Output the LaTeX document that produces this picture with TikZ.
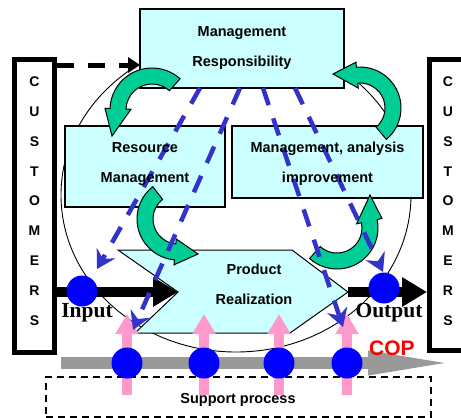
\documentclass[tikz,border=0pt]{standalone}
\usepackage{fontspec}
\newfontfamily\arialf{Liberation Sans}
\newfontfamily\timesf{Liberation Serif}
\usetikzlibrary{arrows.meta}
\definecolor{boxcyan}{RGB}{204,255,255}
\definecolor{bendgreen}{RGB}{0,204,150}
\definecolor{dashblue}{RGB}{51,51,204}
\definecolor{dotblue}{RGB}{0,0,255}
\definecolor{uppink}{RGB}{255,153,204}
\definecolor{copgrey}{RGB}{153,153,153}
% curved block arrow: centre, radius, tail angle, head angle, tip
\newcommand\bendarrow[5]{%
  \pgfmathsetmacro\rOut{#2+8}\pgfmathsetmacro\rIn{#2-8}%
  \pgfmathsetmacro\hOut{#2+13}\pgfmathsetmacro\hIn{#2-13}%
  \filldraw[greenarrow] ([shift={(#1)}]#3:\rOut) arc[start angle=#3, end angle=#4, radius=\rOut]
    -- ([shift={(#1)}]#4:\hOut) -- (#5) -- ([shift={(#1)}]#4:\hIn)
    -- ([shift={(#1)}]#4:\rIn) arc[start angle=#4, end angle=#3, radius=\rIn] -- cycle;}
\begin{document}
\begin{tikzpicture}[x=1pt, y=-1pt,
    custbox/.style={draw, line width=5pt, fill=white, minimum width=40pt, inner sep=0pt},
    letters/.style={font=\arialf\bfseries\fontsize{14}{29.8}\selectfont, align=center, inner sep=0pt},
    procbox/.style={draw, line width=1.5pt, fill=boxcyan, inner sep=0pt},
    lbl/.style={font=\arialf\bfseries\fontsize{14.5}{30}\selectfont, align=center, inner sep=0pt},
    bluedot/.style={circle, fill=dotblue, minimum size=31pt, inner sep=0pt},
    blueline/.style={dashblue, line width=4.5pt, dash pattern=on 18pt off 14pt,
      -{Stealth[length=18pt,width=21pt,inset=6pt]}},
    flowarrow/.style={line width=10pt, -{Triangle[length=25pt,width=28pt]}},
    pinkup/.style={uppink, line width=10pt, -{Triangle[length=20pt,width=22pt]}},
    greenarrow/.style={fill=bendgreen, draw=black, line width=1pt}]
  \clip (0,0) rectangle (461,418);
  \fill[white] (0,0) rectangle (461,418);
  % big circle behind the processes
  \draw[line width=0.9pt] (236,195) ellipse [x radius=175, y radius=157];
  % customers on both sides
  \node[custbox, minimum height=293pt] (custL) at (34.5,206) {};
  \node[custbox, minimum height=291pt] (custR) at (449.5,205) {};
  % process boxes
  \node[procbox, minimum width=204pt, minimum height=79pt] (mr) at (242,48.5) {};
  \node[procbox, minimum width=160pt, minimum height=81pt] (rm) at (145,166.5) {};
  \node[procbox, minimum width=191pt, minimum height=72pt] (ma) at (327.5,162) {};
  \filldraw[fill=boxcyan, line width=1pt] (118,250) -- (292,250) -- (348,292) coordinate (prTip)
    -- (290,333) -- (135,333) -- (178,292) coordinate (prNotch) -- cycle;
  % input and output
  \draw[flowarrow] (custL.east |- prNotch) -- (prNotch);
  \draw[flowarrow] (prTip) -- (custR.west |- prTip);
  \coordinate (fb) at (140,65);
  \draw[line width=5pt, dash pattern=on 17pt off 14pt, -{Triangle[length=12pt,width=15pt]}] (custL.east |- fb) -- (fb);
  % cycle arrows
  \bendarrow{152,110}{34}{-48}{-178}{112,136}
  \bendarrow{360,108}{33}{50}{-95}{333,74}
  \bendarrow{178,219}{33}{232}{95}{198,254}
  \bendarrow{337,228}{33}{132}{-12}{370,195}
  % support line
  \coordinate (copS) at (61,363);
  \coordinate (copE) at (461,363);
  \draw[copgrey, line width=12pt, -{Triangle[length=93pt,width=21pt]}] (copS) -- (copE);
  \node[draw, line width=1.4pt, dash pattern=on 7pt off 5pt, minimum width=385pt, minimum height=40pt] (sp) at (238.5,397) {};
  \foreach \x [count=\i] in {127,204,279,347} {
    \coordinate (pb\i) at (\x,395);
    \coordinate (pt\i) at (\x,314);
    \draw[pinkup] (pb\i) -- (pt\i);
    \node[bluedot] (cp\i) at (\x,363) {};
  }
  \node[bluedot] (inDot) at (82,291) {};
  \node[bluedot] (outDot) at (384,288) {};
  % responsibility lines
  \coordinate (s1) at (200,88); \coordinate (t1) at (97,269);
  \coordinate (s2) at (240,88); \coordinate (t2) at (133,330);
  \coordinate (s3) at (263,88); \coordinate (t3) at (343,327);
  \coordinate (s4) at (295,88); \coordinate (t4) at (383,272);
  \draw[blueline] (s1) -- (t1);
  \draw[blueline] (s2) -- (t2);
  \draw[blueline] (s3) -- (t3);
  \draw[blueline] (s4) -- (t4);
  % texts
  \node[letters] (custLtxt) at (34.5,201) {C\\U\\S\\T\\O\\M\\E\\R\\S};
  \node[letters] (custRtxt) at (448,201) {C\\U\\S\\T\\O\\M\\E\\R\\S};
  \node[lbl] (mrtxt) at (242,48.5) {Management\\Responsibility};
  \node[lbl] (rmtxt) at (145,164.5) {Resource\\Management};
  \node[lbl] (matxt) at (327.5,163.5) {Management, analysis\\improvement};
  \node[lbl] (prtxt) at (254,284.5) {Product\\Realization};
  \node[lbl, anchor=base] (sptxt) at (238,403) {Support process};
  \node[font=\timesf\bfseries\fontsize{21.5}{22}\selectfont, anchor=base, inner sep=0pt] (inTxt) at (87,317) {Input};
  \node[font=\timesf\bfseries\fontsize{21.5}{22}\selectfont, anchor=base, inner sep=0pt] (outTxt) at (389,317) {Output};
  \node[font=\arialf\bfseries\fontsize{21}{21}\selectfont, text=red, anchor=base, inner sep=0pt] (cop) at (392,355) {COP};
\end{tikzpicture}
\end{document}
